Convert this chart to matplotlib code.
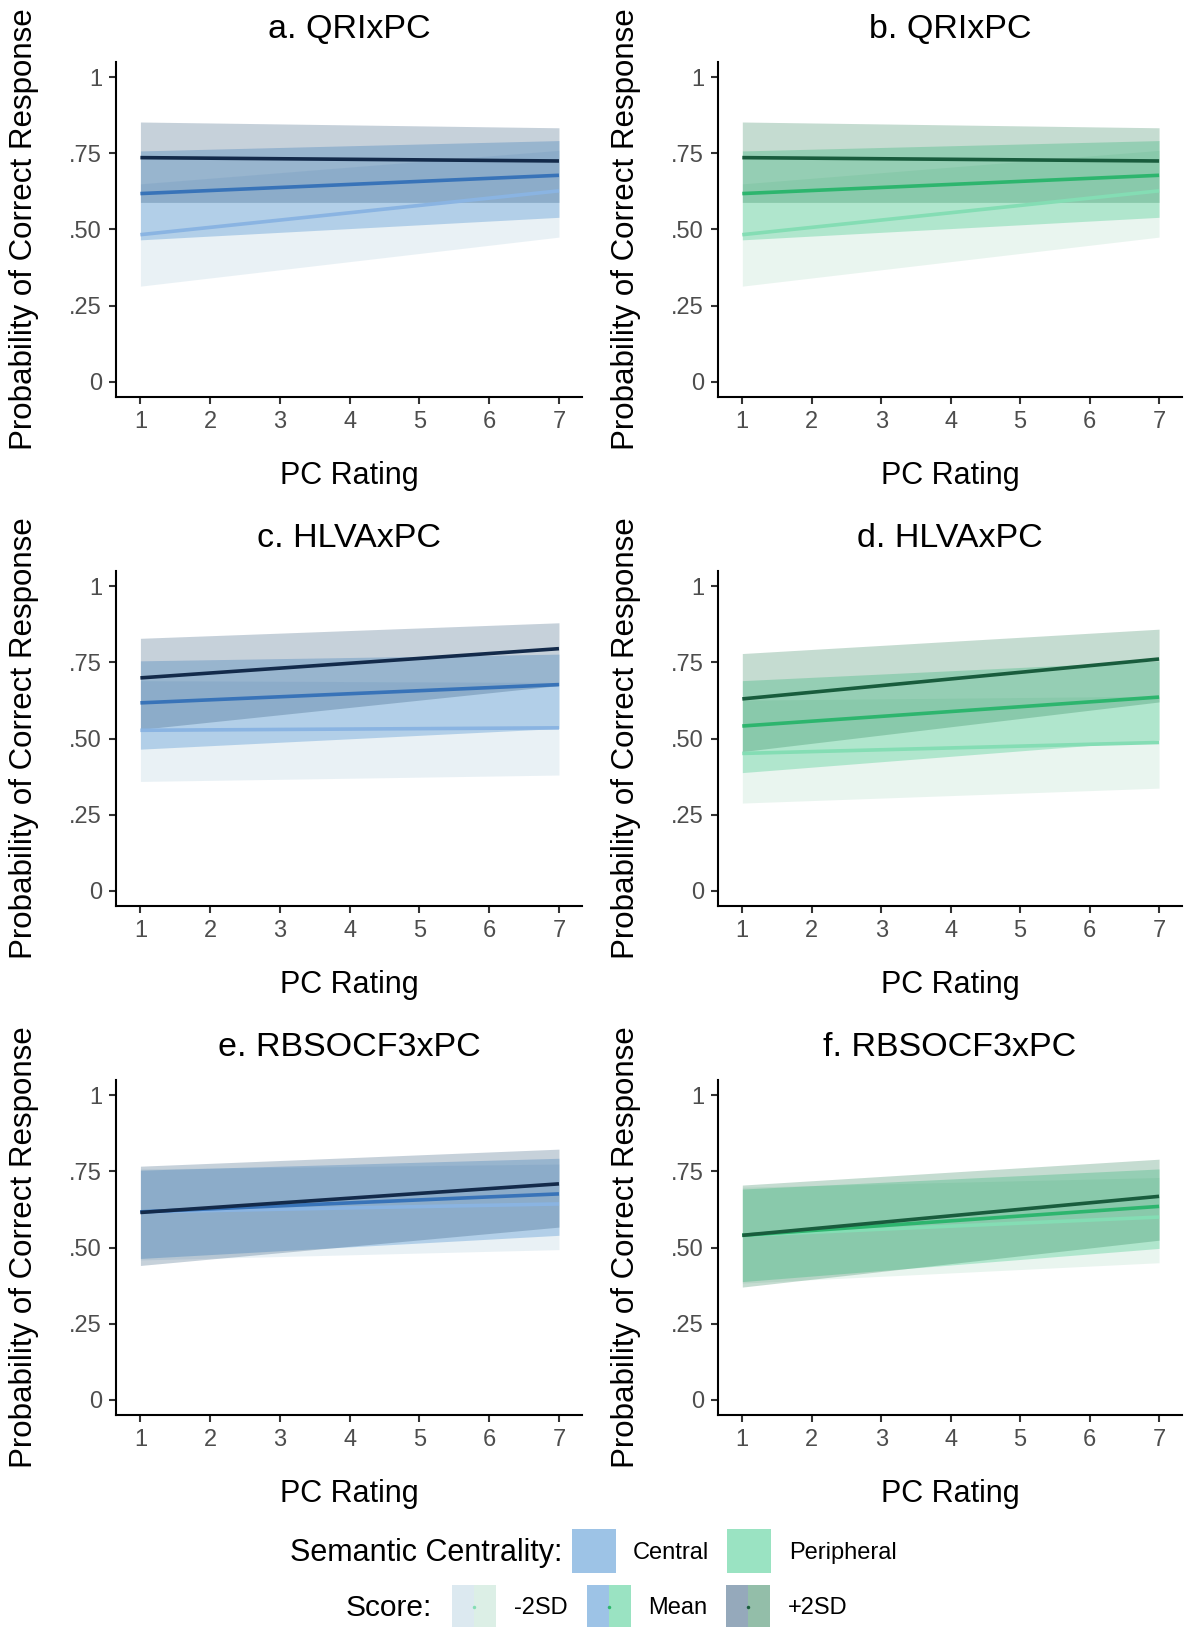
import matplotlib
matplotlib.use("Agg")
import matplotlib.pyplot as plt
from matplotlib.patches import Rectangle

plt.rcParams['font.family'] = ['Liberation Sans', 'DejaVu Sans']

# ---------------- data ----------------
pc_rating = [1, 7]
x_ticks = [1, 2, 3, 4, 5, 6, 7]
y_ticks = [0, 0.25, 0.5, 0.75, 1]
y_ticklabels = ["0", ".25", ".50", ".75", "1"]

panel_titles = ["a. QRIxPC", "b. QRIxPC", "c. HLVAxPC", "d. HLVAxPC",
                "e. RBSOCF3xPC", "f. RBSOCF3xPC"]
panel_group = ["Central", "Peripheral", "Central", "Peripheral", "Central", "Peripheral"]

score_levels = ["-2SD", "Mean", "+2SD"]

# fitted probability at PC rating 1 and 7, with lower / upper bounds
a_m2_fit = [0.483, 0.627]; a_m2_lo = [0.314, 0.475]; a_m2_hi = [0.650, 0.760]
a_mn_fit = [0.618, 0.678]; a_mn_lo = [0.466, 0.540]; a_mn_hi = [0.758, 0.792]
a_p2_fit = [0.736, 0.725]; a_p2_lo = [0.589, 0.589]; a_p2_hi = [0.853, 0.834]

b_m2_fit = [0.483, 0.627]; b_m2_lo = [0.314, 0.475]; b_m2_hi = [0.650, 0.760]
b_mn_fit = [0.618, 0.678]; b_mn_lo = [0.466, 0.540]; b_mn_hi = [0.758, 0.792]
b_p2_fit = [0.736, 0.725]; b_p2_lo = [0.589, 0.589]; b_p2_hi = [0.853, 0.834]

c_m2_fit = [0.527, 0.535]; c_m2_lo = [0.359, 0.380]; c_m2_hi = [0.690, 0.684]
c_mn_fit = [0.617, 0.677]; c_mn_lo = [0.465, 0.533]; c_mn_hi = [0.755, 0.777]
c_p2_fit = [0.699, 0.795]; c_p2_lo = [0.530, 0.674]; c_p2_hi = [0.829, 0.880]

d_m2_fit = [0.451, 0.487]; d_m2_lo = [0.288, 0.337]; d_m2_hi = [0.626, 0.639]
d_mn_fit = [0.541, 0.636]; d_mn_lo = [0.388, 0.495]; d_mn_hi = [0.690, 0.755]
d_p2_fit = [0.630, 0.761]; d_p2_lo = [0.457, 0.620]; d_p2_hi = [0.779, 0.859]

e_m2_fit = [0.617, 0.643]; e_m2_lo = [0.459, 0.493]; e_m2_hi = [0.758, 0.774]
e_mn_fit = [0.617, 0.676]; e_mn_lo = [0.464, 0.540]; e_mn_hi = [0.754, 0.793]
e_p2_fit = [0.615, 0.709]; e_p2_lo = [0.441, 0.567]; e_p2_hi = [0.767, 0.823]

f_m2_fit = [0.540, 0.600]; f_m2_lo = [0.383, 0.450]; f_m2_hi = [0.698, 0.730]
f_mn_fit = [0.540, 0.635]; f_mn_lo = [0.388, 0.497]; f_mn_hi = [0.692, 0.758]
f_p2_fit = [0.540, 0.668]; f_p2_lo = [0.370, 0.524]; f_p2_hi = [0.705, 0.790]

panels = [
    [(a_m2_fit, a_m2_lo, a_m2_hi), (a_mn_fit, a_mn_lo, a_mn_hi), (a_p2_fit, a_p2_lo, a_p2_hi)],
    [(b_m2_fit, b_m2_lo, b_m2_hi), (b_mn_fit, b_mn_lo, b_mn_hi), (b_p2_fit, b_p2_lo, b_p2_hi)],
    [(c_m2_fit, c_m2_lo, c_m2_hi), (c_mn_fit, c_mn_lo, c_mn_hi), (c_p2_fit, c_p2_lo, c_p2_hi)],
    [(d_m2_fit, d_m2_lo, d_m2_hi), (d_mn_fit, d_mn_lo, d_mn_hi), (d_p2_fit, d_p2_lo, d_p2_hi)],
    [(e_m2_fit, e_m2_lo, e_m2_hi), (e_mn_fit, e_mn_lo, e_mn_hi), (e_p2_fit, e_p2_lo, e_p2_hi)],
    [(f_m2_fit, f_m2_lo, f_m2_hi), (f_mn_fit, f_mn_lo, f_mn_hi), (f_p2_fit, f_p2_lo, f_p2_hi)],
]

# ---------------- styles ----------------
line_colors = {
    "Central": ["#8ab4e2", "#3873b8", "#132a4a"],
    "Peripheral": ["#84ddb4", "#2db56e", "#195c3d"],
}
fill_colors = {
    "Central": ["#b2cfde", "#267ac8", "#144068"],
    "Peripheral": ["#b2dcc8", "#1fc178", "#106f40"],
}
fill_alpha = [0.28, 0.28, 0.24]
legend_key_colors = {
    "Central": ["#dce9f0", "#9dc3e6", "#95a9bb"],
    "Peripheral": ["#dcefe6", "#9ae3c2", "#93bea9"],
}

W, H = 1184, 1627
fig = plt.figure(figsize=(W / 100, H / 100), dpi=100)

col_lr = [(116, 582), (718, 1182)]
row_tb = [(62, 397), (571, 906), (1080, 1415)]

tick_col = "#4d4d4d"
for i in range(6):
    r, c = divmod(i, 2)
    l, rr = col_lr[c]
    t, b = row_tb[r]
    ax = fig.add_axes([l / W, 1 - b / H, (rr - l) / W, (b - t) / H])
    grp = panel_group[i]
    for k, (fit, lo, hi) in enumerate(panels[i]):
        ax.fill_between(pc_rating, lo, hi, color=fill_colors[grp][k],
                        alpha=fill_alpha[k], linewidth=0, zorder=1 + k)
    for k, (fit, lo, hi) in enumerate(panels[i]):
        ax.plot(pc_rating, fit, color=line_colors[grp][k], lw=2.6,
                solid_capstyle='butt', zorder=5 + k)
    ax.set_xlim(0.65, 7.33)
    ax.set_ylim(-0.05, 1.05)
    ax.set_xticks(x_ticks)
    ax.set_yticks(y_ticks)
    ax.set_yticklabels(y_ticklabels)
    for s in ["top", "right"]:
        ax.spines[s].set_visible(False)
    for s in ["left", "bottom"]:
        ax.spines[s].set_linewidth(1.5)
        ax.spines[s].set_color("black")
    ax.tick_params(axis='both', length=5, width=1.5, color="#333333",
                   labelsize=17, labelcolor=tick_col)
    ax.tick_params(axis='x', pad=5)
    ax.tick_params(axis='y', pad=5)
    ax.set_title(panel_titles[i], fontsize=24.5, pad=17)
    ax.set_xlabel("PC Rating", fontsize=22)
    ax.xaxis.set_label_coords(0.5, (397 - 461) / 335)
    ax.set_ylabel("Probability of Correct Response", fontsize=22.5)
    ax.yaxis.set_label_coords((39 - 116) / 466, 0.5)
    ax.patch.set_alpha(0)

# ---------------- legend (pixel overlay) ----------------
lg = fig.add_axes([0, 0, 1, 1])
lg.set_xlim(0, W)
lg.set_ylim(H, 0)
lg.axis('off')
lg.patch.set_alpha(0)

lg.text(562, 1553, "Semantic Centrality:", fontsize=22, ha='right', va='center')
group_key_x = [572, 727]
group_text_x = [633, 789]
for gi, grp in enumerate(["Central", "Peripheral"]):
    lg.add_patch(Rectangle((group_key_x[gi], 1529), 44, 44,
                           facecolor=legend_key_colors[grp][1], edgecolor='none'))
    lg.text(group_text_x[gi], 1553, grp, fontsize=17, ha='left', va='center')

lg.text(432, 1608, "Score:", fontsize=21.5, ha='right', va='center')
score_key_x = [452, 587, 726]
score_text_x = [514, 648, 788]
for k, lab in enumerate(score_levels):
    x0 = score_key_x[k]
    lg.add_patch(Rectangle((x0, 1585), 22, 44,
                           facecolor=legend_key_colors["Central"][k], edgecolor='none'))
    lg.add_patch(Rectangle((x0 + 22, 1585), 22, 44,
                           facecolor=legend_key_colors["Peripheral"][k], edgecolor='none'))
    lg.plot([x0 + 22], [1607], marker='o', ms=2.5, mew=0,
            color=line_colors["Peripheral"][k])
    lg.text(score_text_x[k], 1608, lab, fontsize=17, ha='left', va='center')

fig.savefig("out.png", dpi=100)
